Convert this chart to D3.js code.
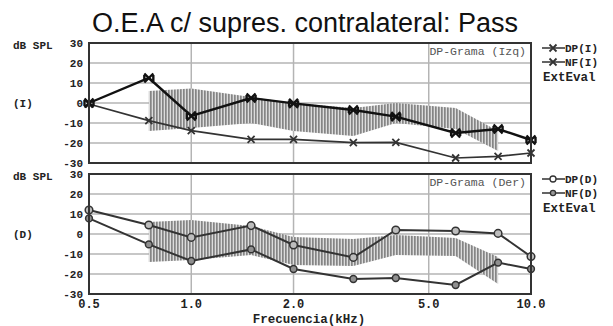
<!DOCTYPE html>
<html>
<head>
<meta charset="utf-8">
<script src="https://cdn.jsdelivr.net/npm/d3@7"></script>
<style>
  html, body { margin: 0; padding: 0; background: #fff; }
  svg { display: block; }
</style>
</head>
<body>
<div id="chart"></div>
<script>
// Frequencies (kHz) where DP / NF were measured
const freqs = [0.5, 0.75, 1.0, 1.5, 2.0, 3.0, 4.0, 6.0, 8.0, 10.0];

// Left ear (Izq)
const dpLeft = [0, 12.5, -6.5, 2.5, -0.2, -3.5, -6.8, -15, -13, -18.5];
const nfLeft = [-0.5, -8.8, -13.8, -18.2, -18.2, -19.8, -19.7, -27.5, -26.7, -25];

// Right ear (Der)
const dpRight = [12, 4.5, -1.7, 4.2, -5.5, -11.7, 2, 1.5, 0.3, -11.3];
const nfRight = [7.8, -5.2, -13.5, -7.7, -17.5, -22.5, -22, -25.5, -14.3, -17.5];

// Normative band (hatched area)
const bandFreqs = [0.75, 1.0, 1.5, 2.0, 3.0, 4.0, 6.0, 8.0];
const bandUpLeft = [6, 7.3, 3, 0, -2.5, 0, -2.5, -14];
const bandLoLeft = [-14, -12.5, -10, -14, -16.5, -10, -13, -24];
const bandUpRight = [6, 7, 4, -1.5, -2.5, -0.5, -2, -11.5];
const bandLoRight = [-14, -13, -10.5, -15.5, -16, -10.5, -11, -25];

const yTicks = [30, 20, 10, 0, -10, -20, -30];
const xTicks = [0.5, 1.0, 2.0, 5.0, 10.0];

const width = 613, height = 326;
const mono = "'Liberation Mono', 'DejaVu Sans Mono', monospace";

const svg = d3.select('#chart').append('svg')
  .attr('width', width)
  .attr('height', height);

// hatch pattern for the normative band
const defs = svg.append('defs');
const pat = defs.append('pattern')
  .attr('id', 'hatch')
  .attr('patternUnits', 'userSpaceOnUse')
  .attr('width', 3)
  .attr('height', 3);
pat.append('rect').attr('width', 3).attr('height', 3).attr('fill', '#dcdcdc');
pat.append('rect').attr('width', 1.7).attr('height', 3).attr('fill', '#858585');

const x = d3.scaleLog().domain([0.5, 10]).range([89, 531]);

// title
svg.append('text')
  .attr('x', 305)
  .attr('y', 32)
  .attr('text-anchor', 'middle')
  .style('font-family', "'Liberation Sans', Arial, sans-serif")
  .style('font-size', '27px')
  .style('fill', '#111')
  .text('O.E.A c/ supres. contralateral: Pass');

const panels = [
  {
    top: 43, bottom: 163, ear: '(I)', title: 'DP-Grama (Izq)',
    dp: dpLeft, nf: nfLeft, up: bandUpLeft, lo: bandLoLeft,
    dpLabel: 'DP(I)', nfLabel: 'NF(I)', marker: 'x'
  },
  {
    top: 174, bottom: 294, ear: '(D)', title: 'DP-Grama (Der)',
    dp: dpRight, nf: nfRight, up: bandUpRight, lo: bandLoRight,
    dpLabel: 'DP(D)', nfLabel: 'NF(D)', marker: 'o'
  }
];

// marker drawing
function drawMarker(g, type, big, cx, cy) {
  if (type === 'x') {
    const s = big ? 4.5 : 3.5;
    g.append('path')
      .attr('d', `M${cx - s},${cy - s}L${cx + s},${cy + s}M${cx - s},${cy + s}L${cx + s},${cy - s}` +
        (big ? `M${cx - s},${cy - 3}L${cx - s},${cy + 3}M${cx + s},${cy - 3}L${cx + s},${cy + 3}` : ''))
      .attr('fill', 'none')
      .attr('stroke', big ? '#111' : '#333')
      .attr('stroke-width', big ? 2.4 : 1.8);
  } else {
    g.append('circle')
      .attr('cx', cx)
      .attr('cy', cy)
      .attr('r', big ? 3.8 : 3.4)
      .attr('fill', big ? '#bdbdbd' : '#8f8f8f')
      .attr('stroke', '#333')
      .attr('stroke-width', 1.5);
  }
}

panels.forEach(p => {
  const y = d3.scaleLinear().domain([-30, 30]).range([p.bottom, p.top]);
  const g = svg.append('g');

  // grid
  g.selectAll('.hgrid')
    .data(yTicks.filter(t => t !== 30 && t !== -30))
    .enter().append('line')
    .attr('x1', x.range()[0]).attr('x2', x.range()[1])
    .attr('y1', d => y(d)).attr('y2', d => y(d))
    .attr('stroke', '#b4b4b4')
    .attr('stroke-width', 1.5);

  g.selectAll('.vgrid')
    .data([1.0, 2.0, 5.0])
    .enter().append('line')
    .attr('x1', d => x(d)).attr('x2', d => x(d))
    .attr('y1', p.top).attr('y2', p.bottom)
    .attr('stroke', '#b4b4b4')
    .attr('stroke-width', 1.5);

  // normative band
  const area = d3.area()
    .x((d, i) => x(bandFreqs[i]))
    .y0((d, i) => y(p.lo[i]))
    .y1(d => y(d));
  g.append('path')
    .datum(p.up)
    .attr('d', area)
    .attr('fill', 'url(#hatch)');

  // panel label
  g.append('text')
    .attr('x', 526)
    .attr('y', p.top + 12)
    .attr('text-anchor', 'end')
    .style('font-family', mono)
    .style('font-size', '11.5px')
    .style('fill', '#555')
    .text(p.title);

  // lines
  const line = d3.line()
    .x((d, i) => x(freqs[i]))
    .y(d => y(d));

  g.append('path')
    .datum(p.nf)
    .attr('d', line)
    .attr('fill', 'none')
    .attr('stroke', '#333')
    .attr('stroke-width', p.marker === 'x' ? 1.6 : 2);

  g.append('path')
    .datum(p.dp)
    .attr('d', line)
    .attr('fill', 'none')
    .attr('stroke', p.marker === 'x' ? '#111' : '#333')
    .attr('stroke-width', p.marker === 'x' ? 2.4 : 2);

  p.nf.forEach((v, i) => drawMarker(g, p.marker, false, x(freqs[i]), y(v)));
  p.dp.forEach((v, i) => drawMarker(g, p.marker, true, x(freqs[i]), y(v)));

  // frame
  g.append('rect')
    .attr('x', x.range()[0])
    .attr('y', p.top)
    .attr('width', x.range()[1] - x.range()[0])
    .attr('height', p.bottom - p.top)
    .attr('fill', 'none')
    .attr('stroke', '#333')
    .attr('stroke-width', 2);

  // y tick labels
  g.selectAll('.ytick')
    .data(yTicks)
    .enter().append('text')
    .attr('x', 83)
    .attr('y', d => y(d) + 4)
    .attr('text-anchor', 'end')
    .style('font-family', mono)
    .style('font-weight', 'bold')
    .style('font-size', '11px')
    .style('fill', '#222')
    .text(d => d);

  g.append('text')
    .attr('x', 13)
    .attr('y', p.top + 6)
    .style('font-family', mono)
    .style('font-weight', 'bold')
    .style('font-size', '11px')
    .style('fill', '#222')
    .text('dB SPL');

  g.append('text')
    .attr('x', 13)
    .attr('y', y(0) + 4)
    .style('font-family', mono)
    .style('font-weight', 'bold')
    .style('font-size', '11px')
    .style('fill', '#222')
    .text(p.ear);

  // legend
  const lg = svg.append('g');
  [[p.dpLabel, true], [p.nfLabel, false]].forEach(([label, big], i) => {
    const ly = p.top + 5 + i * 14;
    lg.append('line')
      .attr('x1', 542).attr('x2', 565)
      .attr('y1', ly).attr('y2', ly)
      .attr('stroke', '#222')
      .attr('stroke-width', 1.4);
    if (p.marker === 'x') {
      drawMarker(lg, 'x', false, 553, ly);
    } else {
      lg.append('circle')
        .attr('cx', 553).attr('cy', ly)
        .attr('r', big ? 3 : 2.6)
        .attr('fill', big ? '#fff' : '#999')
        .attr('stroke', '#333')
        .attr('stroke-width', 1.3);
    }
    lg.append('text')
      .attr('x', 565)
      .attr('y', ly + 4)
      .style('font-family', mono)
      .style('font-weight', 'bold')
      .style('font-size', '11px')
      .style('fill', '#222')
      .text(label);
  });
  lg.append('text')
    .attr('x', 543)
    .attr('y', p.top + 38)
    .style('font-family', mono)
    .style('font-weight', 'bold')
    .style('font-size', '12.5px')
    .style('fill', '#222')
    .text('ExtEval');
});

// x axis labels (bottom panel only)
svg.selectAll('.xtick')
  .data(xTicks)
  .enter().append('text')
  .attr('x', d => x(d))
  .attr('y', 308)
  .attr('text-anchor', 'middle')
  .style('font-family', mono)
  .style('font-weight', 'bold')
  .style('font-size', '12px')
  .style('fill', '#222')
  .text(d => d.toFixed(1));

svg.append('text')
  .attr('x', 309)
  .attr('y', 323)
  .attr('text-anchor', 'middle')
  .style('font-family', mono)
  .style('font-weight', 'bold')
  .style('font-size', '12.5px')
  .style('fill', '#222')
  .text('Frecuencia(kHz)');
</script>
</body>
</html>
